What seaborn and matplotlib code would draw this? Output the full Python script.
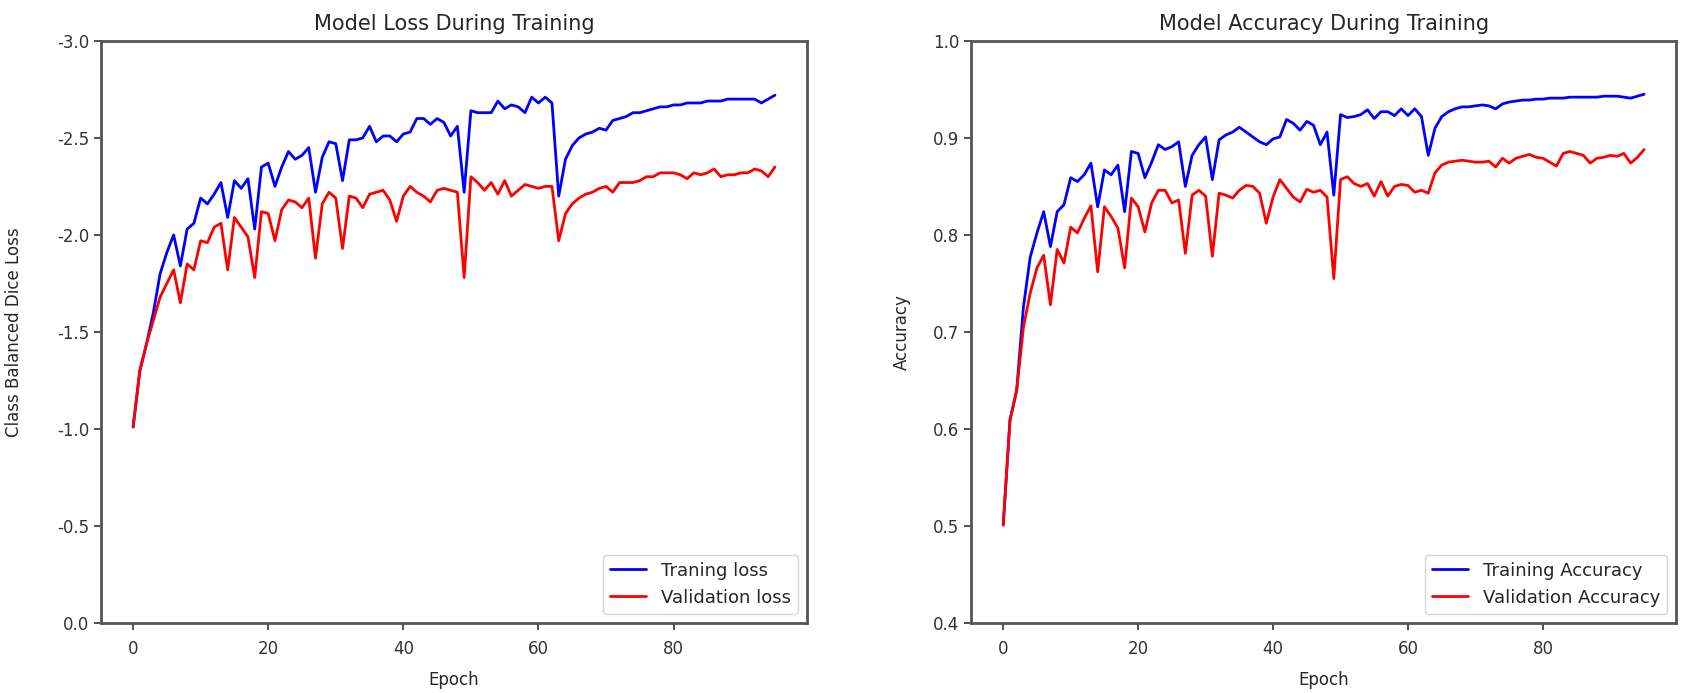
import matplotlib
matplotlib.use("Agg")
import matplotlib.pyplot as plt
import seaborn as sns

# epochs 0..95
epochs = list(range(96))

# class balanced dice loss (negative, so the axis is flipped)
train_loss = [-1.01, -1.30, -1.44, -1.60, -1.80, -1.91, -2.00, -1.84, -2.03, -2.06,
              -2.19, -2.16, -2.21, -2.27, -2.09, -2.28, -2.24, -2.29, -2.03, -2.35,
              -2.37, -2.25, -2.35, -2.43, -2.39, -2.41, -2.45, -2.22, -2.40, -2.48,
              -2.47, -2.28, -2.49, -2.49, -2.50, -2.56, -2.48, -2.51, -2.51, -2.48,
              -2.52, -2.53, -2.60, -2.60, -2.57, -2.60, -2.58, -2.51, -2.56, -2.22,
              -2.64, -2.63, -2.63, -2.63, -2.69, -2.65, -2.67, -2.66, -2.63, -2.71,
              -2.68, -2.71, -2.68, -2.20, -2.39, -2.46, -2.50, -2.52, -2.53, -2.55,
              -2.54, -2.59, -2.60, -2.61, -2.63, -2.63, -2.64, -2.65, -2.66, -2.66,
              -2.67, -2.67, -2.68, -2.68, -2.68, -2.69, -2.69, -2.69, -2.70, -2.70,
              -2.70, -2.70, -2.70, -2.68, -2.70, -2.72]
val_loss = [-1.01, -1.30, -1.44, -1.56, -1.68, -1.75, -1.82, -1.65, -1.85, -1.82,
            -1.97, -1.96, -2.04, -2.06, -1.82, -2.09, -2.04, -1.99, -1.78, -2.12,
            -2.11, -1.97, -2.13, -2.18, -2.17, -2.14, -2.19, -1.88, -2.16, -2.22,
            -2.19, -1.93, -2.20, -2.19, -2.14, -2.21, -2.22, -2.23, -2.18, -2.07,
            -2.20, -2.25, -2.22, -2.20, -2.17, -2.23, -2.24, -2.23, -2.22, -1.78,
            -2.30, -2.27, -2.23, -2.27, -2.21, -2.28, -2.20, -2.23, -2.26, -2.25,
            -2.24, -2.25, -2.25, -1.97, -2.11, -2.16, -2.19, -2.21, -2.22, -2.24,
            -2.25, -2.22, -2.27, -2.27, -2.27, -2.28, -2.30, -2.30, -2.32, -2.32,
            -2.32, -2.31, -2.29, -2.32, -2.31, -2.32, -2.34, -2.30, -2.31, -2.31,
            -2.32, -2.32, -2.34, -2.33, -2.30, -2.35]

train_acc = [0.501, 0.609, 0.640, 0.726, 0.777, 0.802, 0.824, 0.788, 0.824, 0.831,
             0.859, 0.855, 0.862, 0.874, 0.829, 0.867, 0.862, 0.872, 0.824, 0.886,
             0.884, 0.859, 0.875, 0.893, 0.888, 0.891, 0.896, 0.850, 0.882, 0.893,
             0.901, 0.857, 0.898, 0.903, 0.906, 0.911, 0.906, 0.901, 0.896, 0.893,
             0.899, 0.901, 0.919, 0.915, 0.908, 0.917, 0.913, 0.893, 0.906, 0.841,
             0.924, 0.921, 0.922, 0.924, 0.929, 0.920, 0.927, 0.927, 0.923, 0.930,
             0.923, 0.930, 0.922, 0.882, 0.910, 0.922, 0.927, 0.930, 0.932, 0.932,
             0.933, 0.934, 0.933, 0.930, 0.935, 0.937, 0.938, 0.939, 0.939, 0.940,
             0.940, 0.941, 0.941, 0.941, 0.942, 0.942, 0.942, 0.942, 0.942, 0.943,
             0.943, 0.943, 0.942, 0.941, 0.943, 0.945]
val_acc = [0.501, 0.609, 0.640, 0.705, 0.740, 0.766, 0.779, 0.728, 0.785, 0.771,
           0.808, 0.802, 0.817, 0.830, 0.762, 0.829, 0.819, 0.807, 0.766, 0.838,
           0.829, 0.803, 0.833, 0.846, 0.846, 0.833, 0.836, 0.781, 0.841, 0.846,
           0.840, 0.778, 0.843, 0.841, 0.838, 0.846, 0.851, 0.850, 0.843, 0.812,
           0.839, 0.857, 0.848, 0.839, 0.834, 0.847, 0.844, 0.846, 0.839, 0.755,
           0.857, 0.860, 0.853, 0.850, 0.853, 0.840, 0.855, 0.840, 0.850, 0.852,
           0.851, 0.844, 0.846, 0.843, 0.864, 0.872, 0.875, 0.876, 0.877, 0.876,
           0.875, 0.875, 0.876, 0.870, 0.879, 0.874, 0.879, 0.881, 0.883, 0.880,
           0.879, 0.875, 0.871, 0.884, 0.886, 0.884, 0.882, 0.874, 0.879, 0.880,
           0.882, 0.881, 0.884, 0.874, 0.880, 0.888]

sns.set_style("ticks")
plt.rcParams['font.family'] = ['DejaVu Sans']
plt.rcParams['axes.unicode_minus'] = False

fig = plt.figure(figsize=(16.89, 6.93), dpi=100)
ax1 = fig.add_axes([0.0598, 0.101, 0.418, 0.840])
ax2 = fig.add_axes([0.575, 0.101, 0.4174, 0.840])

# left: loss
sns.lineplot(x=epochs, y=train_loss, color='blue', linewidth=2, label='Traning loss', ax=ax1)
sns.lineplot(x=epochs, y=val_loss, color='red', linewidth=2, label='Validation loss', ax=ax1)
ax1.set_ylim(0, -3.0)
ax1.set_title('Model Loss During Training', fontsize=15, pad=8)
ax1.set_ylabel('Class Balanced Dice Loss', fontsize=12)
ax1.set_xlabel('Epoch', fontsize=12)
ax1.yaxis.set_label_coords(-0.111, 0.5)

# right: accuracy
sns.lineplot(x=epochs, y=train_acc, color='blue', linewidth=2, label='Training Accuracy', ax=ax2)
sns.lineplot(x=epochs, y=val_acc, color='red', linewidth=2, label='Validation Accuracy', ax=ax2)
ax2.set_ylim(0.4, 1.0)
ax2.set_title('Model Accuracy During Training', fontsize=15, pad=8)
ax2.set_ylabel('Accuracy', fontsize=12)
ax2.set_xlabel('Epoch', fontsize=12)
ax2.yaxis.set_label_coords(-0.085, 0.5)

for ax in (ax1, ax2):
    ax.set_xticks([0, 20, 40, 60, 80])
    ax.tick_params(labelsize=12, width=1.2, length=5, colors='#333333')
    ax.tick_params(axis='x', pad=7)
    ax.xaxis.set_label_coords(0.5, -0.082)
    for s in ax.spines.values():
        s.set_visible(True)
        s.set_linewidth(2)
        s.set_color('#555555')
    ax.legend(loc='lower right', fontsize=13, frameon=True, edgecolor='#cccccc')

fig.savefig('out.png', dpi=100)
